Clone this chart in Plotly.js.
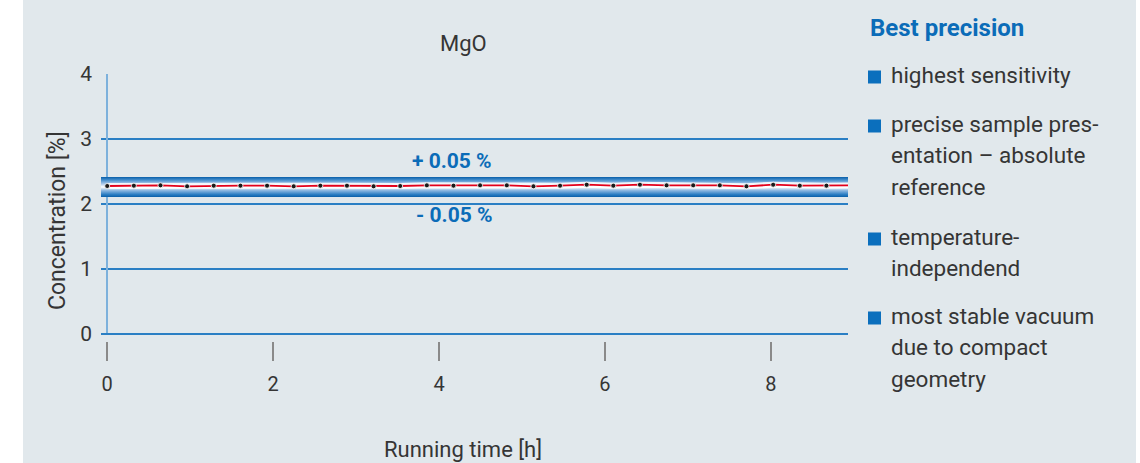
<!DOCTYPE html>
<html><head><meta charset="utf-8">
<script src="https://cdn.plot.ly/plotly-3.0.1.min.js"></script>
<style>html,body{margin:0;padding:0;background:#fff;}</style>
</head><body>
<div id="chart" style="width:1140px;height:463px;"></div>
<script>
// ---- data ----
const timeH = [0, 0.321, 0.642, 0.963, 1.284, 1.606, 1.927, 2.248, 2.569, 2.89, 3.211, 3.532, 3.853, 4.174, 4.495, 4.817, 5.138, 5.459, 5.78, 6.101, 6.422, 6.743, 7.064, 7.385, 7.706, 8.028, 8.349, 8.67, 8.99];
const mgo = [2.277, 2.282, 2.287, 2.272, 2.282, 2.282, 2.282, 2.272, 2.282, 2.282, 2.272, 2.277, 2.287, 2.282, 2.287, 2.287, 2.272, 2.282, 2.297, 2.282, 2.297, 2.287, 2.287, 2.287, 2.272, 2.297, 2.282, 2.282, 2.287];
const bandX = [-0.2, 9.1];
const bandUpper = [2.415, 2.415];
const bandLower = [2.108, 2.108];
const yTicks = [0, 1, 2, 3, 4];
const xTicks = [0, 2, 4, 6, 8];
const bandLabels = ["+ 0.05 %", "- 0.05 %"];
const bandLabelY = [2.66, 1.83];
const bandLabelX = 4.66;
const headline = "Best precision";
const bullets = [
  ["highest sensitivity"],
  ["precise sample pres-", "entation \u2013 absolute", "reference"],
  ["temperature-", "independend"],
  ["most stable vacuum", "due to compact", "geometry"]
];
const bulletBaselines = [[83], [132, 163, 195], [245, 276], [324, 355, 387]];

// ---- layout helpers ----
const W = 1140, H = 463;
const M = {l: 101, r: 292, t: 74, b: 100};
const PW = W - M.l - M.r, PH = H - M.t - M.b;
const px = x => (x - M.l) / PW;
const py = y => (H - M.b - y) / PH;

const TXT = '#353535', BLUE = '#0b6cb8', GRID = '#2a7fc4';
const FONT = 'Roboto, "Liberation Sans", sans-serif';

const traces = [
  {x: bandX, y: bandLower, type: 'scatter', mode: 'lines', line: {width: 0, color: 'rgba(0,0,0,0)'}, hoverinfo: 'skip', showlegend: false},
  {x: bandX, y: bandUpper, type: 'scatter', mode: 'lines', fill: 'tonexty', line: {width: 0, color: 'rgba(0,0,0,0)'},
   fillgradient: {type: 'vertical', colorscale: [[0, '#0a60a9'], [0.13, '#2d7fc4'], [0.32, '#8ab6e0'], [0.5, '#ffffff'], [0.66, '#a8c8ea'], [0.87, '#3c88c9'], [1, '#0a60a9']]},
   hoverinfo: 'skip', showlegend: false},
  {x: timeH, y: mgo, type: 'scatter', mode: 'lines', line: {width: 6, color: 'rgba(255,255,255,0.85)'}, hoverinfo: 'skip', showlegend: false},
  {x: timeH, y: mgo, type: 'scatter', mode: 'lines+markers', line: {width: 1.8, color: '#e3001b'},
   marker: {size: 5, color: '#1a1a1a', line: {width: 1, color: 'rgba(255,255,255,0.8)'}}, showlegend: false}
];

const ann = [];
ann.push({xref: 'paper', yref: 'paper', x: px(463), y: py(44), text: 'MgO', showarrow: false, xanchor: 'center', yanchor: 'middle', font: {family: FONT, size: 22, color: TXT}});
ann.push({xref: 'paper', yref: 'paper', x: px(57), y: py(221), text: 'Concentration [%]', textangle: -90, showarrow: false, xanchor: 'center', yanchor: 'middle', font: {family: FONT, size: 23, color: TXT}});
ann.push({xref: 'paper', yref: 'paper', x: px(463), y: py(449), text: 'Running time [h]', showarrow: false, xanchor: 'center', yanchor: 'middle', font: {family: FONT, size: 22, color: TXT}});
bandLabels.forEach((t, i) => ann.push({x: bandLabelX, y: bandLabelY[i], xref: 'x', yref: 'y', text: '<b>' + t + '</b>', showarrow: false, xanchor: 'right', yanchor: 'middle', font: {family: FONT, size: 21, color: BLUE}}));
ann.push({xref: 'paper', yref: 'paper', x: px(868), y: py(28), text: '<b>' + headline + '</b>', showarrow: false, xanchor: 'left', yanchor: 'middle', font: {family: FONT, size: 24, color: BLUE}});
const shapes = [
  {type: 'rect', xref: 'paper', yref: 'paper', x0: px(-5), x1: px(23), y0: py(470), y1: py(-5), fillcolor: '#ffffff', line: {width: 0}, layer: 'below'},
  {type: 'rect', xref: 'paper', yref: 'paper', x0: px(1136), x1: px(1150), y0: py(470), y1: py(-5), fillcolor: '#ffffff', line: {width: 0}, layer: 'below'}
];
bullets.forEach((lines, i) => {
  lines.forEach((t, j) => {
    const b = bulletBaselines[i][j];
    ann.push({xref: 'paper', yref: 'paper', x: px(889), y: py(b - 8), text: t, showarrow: false, xanchor: 'left', yanchor: 'middle', font: {family: FONT, size: 22.5, color: TXT}});
  });
  const c = bulletBaselines[i][0] - 6;
  shapes.push({type: 'rect', xref: 'paper', yref: 'paper', x0: px(868), x1: px(881), y0: py(c + 6.5), y1: py(c - 6.5), fillcolor: '#0b6fbd', line: {width: 0}});
});

const layout = {
  width: W, height: H,
  margin: M,
  paper_bgcolor: '#e1e8ec', plot_bgcolor: 'rgba(0,0,0,0)',
  showlegend: false,
  xaxis: {range: [-0.075, 8.93], anchor: 'free', position: py(341), tickvals: xTicks, ticktext: xTicks.map(String),
          ticks: 'outside', ticklen: 19, tickwidth: 1.5, tickcolor: '#8a8a8a', showgrid: false, showline: false,
          zeroline: true, zerolinecolor: '#7db1dc', zerolinewidth: 2, layer: 'above traces',
          tickfont: {family: FONT, size: 20, color: TXT}, ticklabelstandoff: 6, fixedrange: true},
  yaxis: {range: [0, 4], domain: [py(334), 1], tickvals: yTicks, ticktext: yTicks.map(String), ticks: '',
          showgrid: true, gridcolor: GRID, gridwidth: 1.3, zeroline: true, zerolinecolor: GRID, zerolinewidth: 1.3,
          showline: false, tickfont: {family: FONT, size: 21, color: TXT}, ticklabelstandoff: 8, fixedrange: true},
  annotations: ann,
  shapes: shapes
};
Plotly.newPlot('chart', traces, layout, {staticPlot: true, displayModeBar: false});
</script>
</body></html>
